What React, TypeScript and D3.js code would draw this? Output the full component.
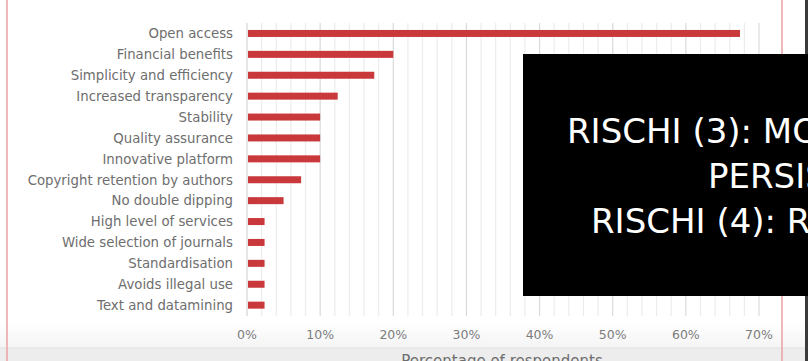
import React from "react";
import * as d3 from "d3";

const categories = [
  "Open access",
  "Financial benefits",
  "Simplicity and efficiency",
  "Increased transparency",
  "Stability",
  "Quality assurance",
  "Innovative platform",
  "Copyright retention by authors",
  "No double dipping",
  "High level of services",
  "Wide selection of journals",
  "Standardisation",
  "Avoids illegal use",
  "Text and datamining",
];
const values = [67.4, 20, 17.4, 12.4, 10, 10, 10, 7.4, 5, 2.4, 2.4, 2.4, 2.4, 2.4];
const majorTicks = [0, 10, 20, 30, 40, 50, 60, 70];
const minorTicks = d3.range(0, 71, 2);
const overlayLines = ["RISCHI (3): MODELLO", "PERSISTENZA", "RISCHI (4): RISORSE"];
const overlayX = [567, 708, 591];
const axisTitle = "Percentage of respondents";

const W = 808;
const H = 361;
const FONT = "'DejaVu Sans', sans-serif";

export default function App() {
  const x = d3.scaleLinear().domain([0, 70]).range([247, 759]);
  const y = d3.scaleBand<string>().domain(categories).range([23, 315.6]).paddingInner(0.66).paddingOuter(0.33);

  return (
    <svg width={W} height={H} style={{ position: "absolute", left: 0, top: 0 }}>
      <defs>
        <linearGradient id="bottomFade" x1="0" y1="0" x2="0" y2="1">
          <stop offset="0" stopColor="#ffffff" />
          <stop offset="1" stopColor="#f4f4f4" />
        </linearGradient>
      </defs>
      <rect x={0} y={0} width={W} height={H} fill="#ffffff" />
      <rect x={0} y={322} width={W} height={26} fill="url(#bottomFade)" />
      <rect x={0} y={348} width={W} height={H - 348} fill="#ededed" />
      <line x1={0} x2={W} y1={348} y2={348} stroke="#e2e2e2" />
      {/* gridlines */}
      {minorTicks.map((t) => (
        <line
          key={"g" + t}
          x1={x(t)}
          x2={x(t)}
          y1={23}
          y2={316}
          stroke={t === 0 ? "#d4d4d4" : t % 10 === 0 ? "#dadada" : "#ececec"}
          strokeWidth={1.2}
        />
      ))}
      {/* bars */}
      {categories.map((c, i) => (
        <rect
          key={c}
          x={x(0) + 1}
          y={(y(c) as number) + y.bandwidth() / 2 - 3.5}
          width={x(values[i]) - x(0) - 1}
          height={7}
          fill="#c9383a"
        />
      ))}
      {/* category labels */}
      {categories.map((c) => (
        <text
          key={"l" + c}
          x={233}
          y={(y(c) as number) + y.bandwidth() / 2}
          dy="0.36em"
          textAnchor="end"
          fontFamily={FONT}
          fontSize={13.3}
          fill="#6e6e6e"
        >
          {c}
        </text>
      ))}
      {/* tick labels */}
      {majorTicks.map((t) => (
        <text
          key={"t" + t}
          x={x(t)}
          y={334}
          dy="0.36em"
          textAnchor="middle"
          fontFamily={FONT}
          fontSize={12.5}
          fill="#7c7c7c"
        >
          {t + "%"}
        </text>
      ))}
      <text x={502} y={366} textAnchor="middle" fontFamily={FONT} fontSize={15} fill="#6e6e6e">
        {axisTitle}
      </text>
      {/* frame lines */}
      <line x1={7} x2={7} y1={0} y2={H} stroke="#eaa1a3" strokeWidth={1.5} />
      <line x1={782} x2={782} y1={0} y2={H} stroke="#eaa1a3" strokeWidth={1.5} />
      <rect x={805} y={0} width={3} height={H} fill="#3a3a3a" />
      {/* overlay */}
      <rect x={523} y={54} width={W - 523} height={242} fill="#000000" />
      {overlayLines.map((s, i) => (
        <text
          key={"o" + i}
          x={overlayX[i]}
          y={143 + i * 45}
          fontFamily={FONT}
          fontSize={34}
          fill="#ffffff"
        >
          {s}
        </text>
      ))}
    </svg>
  );
}
